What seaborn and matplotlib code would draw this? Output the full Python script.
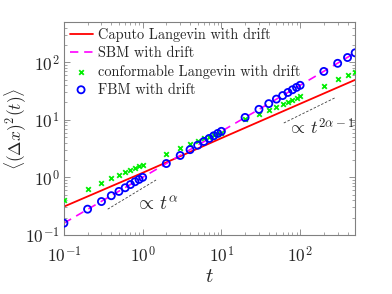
import numpy as np
import pandas as pd
import matplotlib
matplotlib.use("Agg")
import matplotlib.pyplot as plt
import seaborn as sns

# ── Data ──────────────────────────────────────────────────────────────────────
t_pts = [0.1, 0.2, 0.3, 0.4, 0.5, 0.6, 0.7, 0.8, 0.9, 1,
         2, 3, 4, 5, 6, 7, 8, 9, 10,
         20, 30, 40, 50, 60, 70, 80, 90, 100,
         200, 300, 400, 500]
fbm = [0.16, 0.28, 0.38, 0.48, 0.57, 0.66, 0.75, 0.84, 0.92, 1.0,
       1.74, 2.4, 3.03, 3.62, 4.2, 4.74, 5.28, 5.8, 6.3,
       11.0, 15.2, 19.1, 22.9, 26.4, 29.9, 33.3, 36.6, 39.8,
       69.3, 95.9, 121, 146]
conformable = [0.41, 0.62, 0.80, 0.96, 1.11, 1.24, 1.35, 1.45, 1.55, 1.66,
               2.54, 3.26, 3.8, 4.37, 4.8, 5.1, 5.4, 5.7, 5.95,
               10.4, 12.5, 15.1, 16.7, 18.5, 20.5, 22.5, 24.2, 26.0,
               39.3, 50.6, 60.0, 67.7]

t_line = [0.1, 1, 10, 100, 500]
caputo = [0.31, 1.2, 4.8, 19.0, 49.5]
sbm = [0.16, 1.0, 6.3, 39.8, 146]

guide1_t = [0.36, 1.48]
guide1_y = [0.28, 0.90]
guide2_t = [62, 280]
guide2_y = [8.8, 24.3]

# ── Style ─────────────────────────────────────────────────────────────────────
sns.set_style("ticks")
plt.rcParams["font.family"] = ["serif"]
plt.rcParams["font.serif"] = ["cmr10", "DejaVu Serif"]
plt.rcParams["mathtext.fontset"] = "cm"
plt.rcParams["axes.formatter.use_mathtext"] = True
plt.rcParams["axes.unicode_minus"] = False

fig = plt.figure(figsize=(3.92, 2.94), dpi=100)
ax = fig.add_axes([0.163, 0.201, 0.743, 0.724])
ax.set_xscale("log")
ax.set_yscale("log")

df_line = pd.DataFrame({"t": t_line, "caputo": caputo, "sbm": sbm})
df_pts = pd.DataFrame({"t": t_pts, "fbm": fbm, "conf": conformable})

sns.lineplot(data=df_line, x="t", y="caputo", color="#ff0000", lw=1.3,
             label="Caputo Langevin with drift", ax=ax)
sns.lineplot(data=df_line, x="t", y="sbm", color="#ff00ff", lw=1.2,
             label="SBM with drift", ax=ax)
ax.lines[-1].set_dashes([5, 3.5])
sns.scatterplot(data=df_pts, x="t", y="conf", marker="x", color="#00ee00",
                s=11, linewidth=1.3, label="conformable Langevin with drift",
                ax=ax, zorder=3)
sns.scatterplot(data=df_pts, x="t", y="fbm", marker="o", color="#0000ff",
                facecolor="none", edgecolor="#0000ff", s=26, linewidth=1.3,
                label="FBM with drift", ax=ax, zorder=4)

# guide slopes
ax.plot(guide1_t, guide1_y, color="#404040", ls=(0, (3, 2)), lw=0.6)
ax.plot(guide2_t, guide2_y, color="#404040", ls=(0, (3, 2)), lw=0.6)
ax.text(0.8, 0.34, r"$\propto\, t^{\alpha}$", fontsize=14, va="center")
ax.text(68, 7.4, r"$\propto\, t^{2\alpha-1}$", fontsize=13, va="center")

ax.set_xlim(0.1, 500)
ax.set_ylim(0.1, 500)
ax.set_xticks([0.1, 1, 10, 100])
ax.set_yticks([0.1, 1, 10, 100])
ax.tick_params(which="both", direction="in", top=True, right=True,
               color="#808080", labelsize=12.5, labelcolor="#262626")
ax.tick_params(which="major", length=4, width=0.6)
ax.tick_params(which="minor", length=2, width=0.5)
ax.tick_params(axis="x", which="major", pad=7)
ax.tick_params(axis="y", which="major", pad=3)
for sp in ax.spines.values():
    sp.set_color("#808080")
    sp.set_linewidth(0.8)

ax.set_xlabel(r"$t$", fontsize=15, labelpad=2)
ax.set_ylabel(r"$\langle(\Delta x)^2(t)\rangle$", fontsize=12.5)
ax.yaxis.set_label_coords(-0.12, 0.5)

leg = ax.legend(loc="upper left", frameon=False, fontsize=10.3,
                handlelength=1.6, handletextpad=0.4, labelspacing=0.3,
                borderaxespad=0.2, borderpad=0.2)
for txt in leg.get_texts():
    txt.set_color("#262626")

fig.savefig("out.png", dpi=100)
